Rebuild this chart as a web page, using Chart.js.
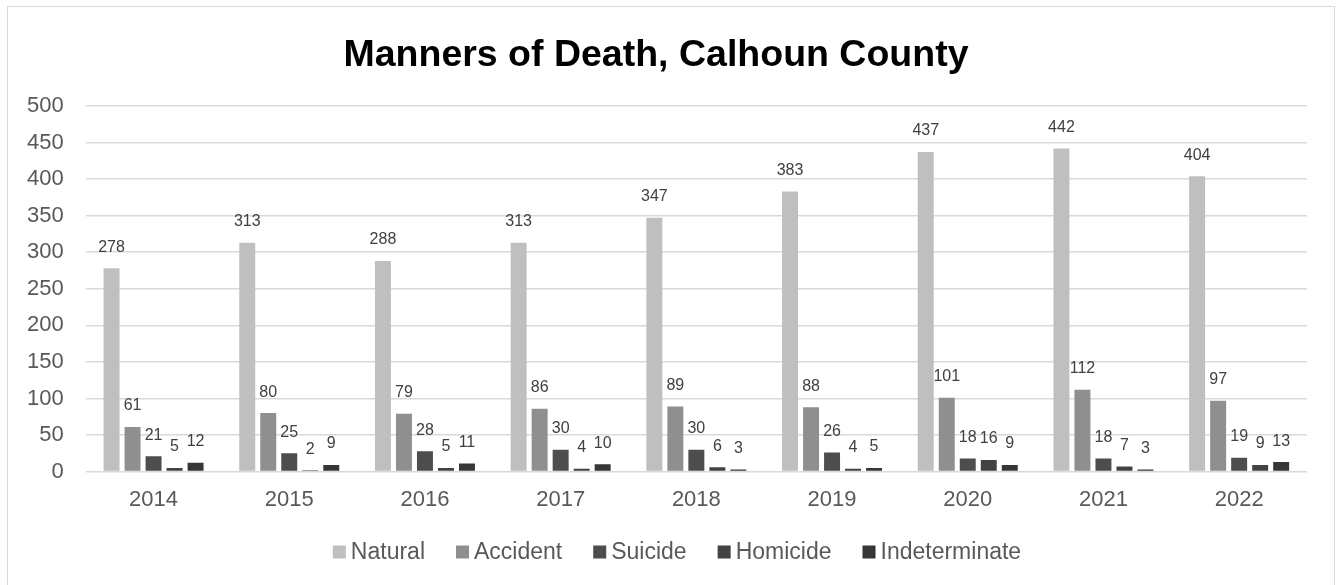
<!DOCTYPE html>
<html>
<head>
<meta charset="utf-8">
<script src="https://cdn.jsdelivr.net/npm/chart.js@4.4.0/dist/chart.umd.min.js"></script>
<style>
  html, body { margin: 0; padding: 0; background: #fff; }
  #frame { position: absolute; left: 7px; top: 6px; width: 1326px; height: 600px; border: 1px solid #d9d9d9; }
  #wrap { position: absolute; left: 0; top: 0; width: 1336px; height: 585px; }
</style>
</head>
<body>
<div id="frame"></div>
<div id="wrap"><canvas id="deaths"></canvas></div>
<script>
// data
const years         = ['2014', '2015', '2016', '2017', '2018', '2019', '2020', '2021', '2022'];
const natural       = [278, 313, 288, 313, 347, 383, 437, 442, 404];
const accident      = [61, 80, 79, 86, 89, 88, 101, 112, 97];
const suicide       = [21, 25, 28, 30, 30, 26, 18, 18, 19];
const homicide      = [5, 2, 5, 4, 6, 4, 16, 7, 9];
const indeterminate = [12, 9, 11, 10, 3, 5, 9, 3, 13];
const yTicks        = [0, 50, 100, 150, 200, 250, 300, 350, 400, 450, 500];

const textGrey = '#595959';
const sans = '"Liberation Sans", Arial, sans-serif';

// value labels above each bar, Excel style
const barLabels = {
  id: 'barLabels',
  afterDatasetsDraw(chart) {
    const ctx = chart.ctx;
    ctx.save();
    ctx.font = '16px ' + sans;
    ctx.fillStyle = '#404040';
    ctx.textAlign = 'center';
    ctx.textBaseline = 'middle';
    chart.data.datasets.forEach((ds, i) => {
      chart.getDatasetMeta(i).data.forEach((bar, j) => {
        ctx.fillText(ds.data[j], bar.x, bar.y - 21);
      });
    });
    ctx.restore();
  }
};

// legend row under the axis (built-in legend can't sit this close)
const bottomLegend = {
  id: 'bottomLegend',
  afterDraw(chart) {
    const ctx = chart.ctx;
    const box = 13, gap = 5, spacing = 31, y = 552;
    ctx.save();
    ctx.font = '23px ' + sans;
    ctx.textBaseline = 'middle';
    const items = chart.data.datasets.map(ds => ({
      text: ds.label, color: ds.backgroundColor, w: ctx.measureText(ds.label).width
    }));
    const total = items.reduce((s, it) => s + box + gap + it.w, 0) + spacing * (items.length - 1);
    let x = 677 - total / 2;
    items.forEach(it => {
      ctx.fillStyle = it.color;
      ctx.fillRect(x, y - box / 2, box, box);
      x += box + gap;
      ctx.fillStyle = textGrey;
      ctx.fillText(it.text, x, y + 1);
      x += it.w + spacing;
    });
    ctx.restore();
  }
};

function series(label, data, color) {
  return { label, data, backgroundColor: color, borderWidth: 0,
           categoryPercentage: 0.774, barPercentage: 0.76 };
}

new Chart(document.getElementById('deaths'), {
  type: 'bar',
  data: {
    labels: years,
    datasets: [
      series('Natural', natural, '#bfbfbf'),
      series('Accident', accident, '#8f8f8f'),
      series('Suicide', suicide, '#4d4d4d'),
      series('Homicide', homicide, '#424242'),
      series('Indeterminate', indeterminate, '#363636')
    ]
  },
  plugins: [barLabels, bottomLegend],
  options: {
    responsive: true,
    maintainAspectRatio: false,
    animation: false,
    layout: { padding: { left: 5, right: 29, top: 0, bottom: 65 } },
    plugins: {
      title: {
        display: true,
        text: 'Manners of Death, Calhoun County',
        color: '#000',
        font: { family: sans, size: 37.5, weight: 'bold' },
        padding: { top: 33, bottom: 28 }
      },
      legend: { display: false },
      tooltip: { enabled: false }
    },
    scales: {
      x: {
        grid: { display: false },
        border: { display: false },
        ticks: { color: textGrey, font: { family: sans, size: 22 }, padding: 7 }
      },
      y: {
        min: 0,
        max: 500,
        afterBuildTicks(axis) { axis.ticks = yTicks.map(v => ({ value: v })); },
        grid: { color: '#d9d9d9', lineWidth: 1.5, drawTicks: false },
        border: { display: false },
        ticks: { color: textGrey, font: { family: sans, size: 22 }, padding: 22 }
      }
    }
  }
});
</script>
</body>
</html>
